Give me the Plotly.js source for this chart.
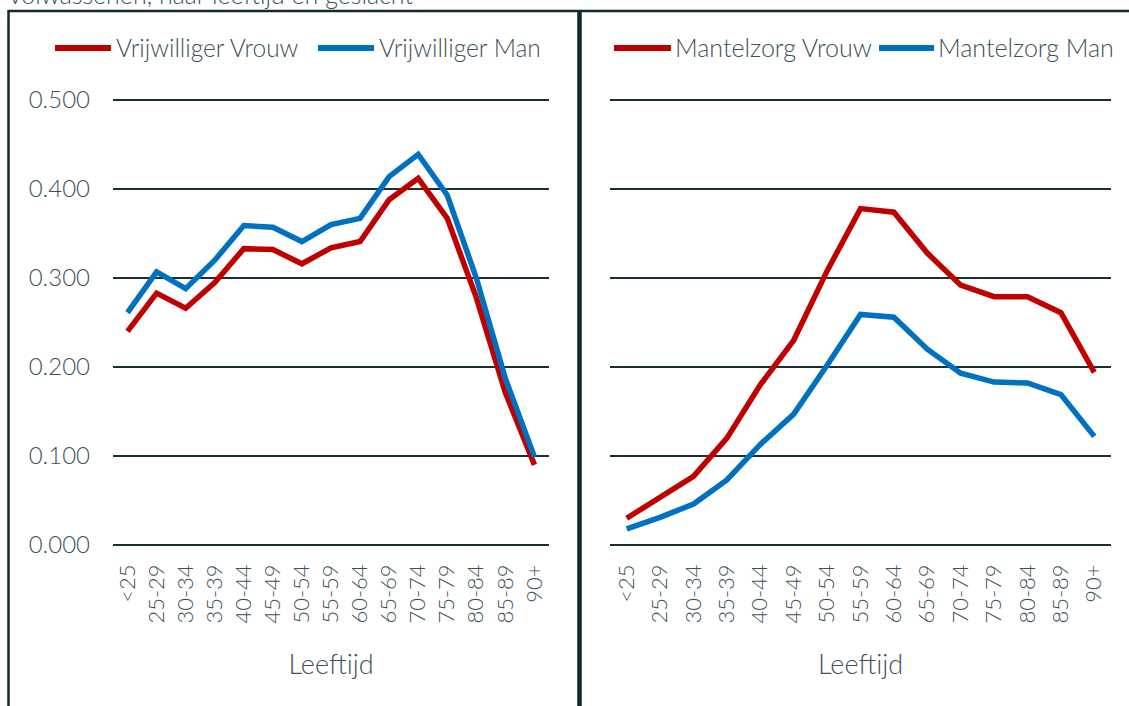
<!DOCTYPE html>
<html>
<head>
<meta charset="utf-8">
<script src="https://cdn.plot.ly/plotly-3.0.1.min.js"></script>
<style>
  html, body { margin: 0; padding: 0; background: #ffffff; }
  #chart { width: 1129px; height: 706px; }
</style>
</head>
<body>
<div id="chart"></div>
<script>
// ---- data ----
const ageGroups = ['<25','25-29','30-34','35-39','40-44','45-49','50-54','55-59','60-64','65-69','70-74','75-79','80-84','85-89','90+'];
const vrijwilligerVrouw = [0.240,0.283,0.266,0.295,0.333,0.332,0.316,0.334,0.341,0.388,0.412,0.367,0.278,0.171,0.090];
const vrijwilligerMan   = [0.261,0.307,0.288,0.320,0.359,0.357,0.341,0.360,0.367,0.414,0.439,0.393,0.300,0.187,0.099];
const mantelzorgVrouw   = [0.030,0.053,0.077,0.120,0.180,0.230,0.308,0.378,0.374,0.328,0.292,0.279,0.279,0.261,0.194];
const mantelzorgMan     = [0.018,0.031,0.046,0.073,0.113,0.147,0.202,0.259,0.256,0.220,0.193,0.183,0.182,0.169,0.122];
const seriesNames = ['Vrijwilliger Vrouw','Vrijwilliger Man','Mantelzorg Vrouw','Mantelzorg Man'];
const yTickVals = [0, 0.1, 0.2, 0.3, 0.4, 0.5];
const yTickText = ['0.000','0.100','0.200','0.300','0.400','0.500'];
const titleText = 'volwassenen, naar leeftijd en geslacht';
const axisTitle = 'Leeftijd';

// ---- style ----
const RED = '#C00000', BLUE = '#0070C0';
const TEXT = '#3c5257', GRID = '#1b2e31', FRAME = '#0e2a2d';
const FONT = 'Lato, "Open Sans", sans-serif';

const W = 1129, H = 706;
const M = {l: 113, r: 18, t: 99, b: 160};
const PW = W - M.l - M.r, PH = H - M.t - M.b;
const px2x = px => (px - M.l) / PW;
const px2y = py => (H - M.b - py) / PH;

function line(y, name, color, xa, ya) {
  return {x: ageGroups, y: y, name: name, type: 'scatter', mode: 'lines',
          xaxis: xa, yaxis: ya, showlegend: false, cliponaxis: false,
          line: {color: color, width: 5.5, shape: 'linear'},
          hoverinfo: 'x+y+name'};
}
const traces = [
  line(vrijwilligerVrouw, seriesNames[0], RED, 'x', 'y'),
  line(vrijwilligerMan, seriesNames[1], BLUE, 'x', 'y'),
  line(mantelzorgVrouw, seriesNames[2], RED, 'x2', 'y2'),
  line(mantelzorgMan, seriesNames[3], BLUE, 'x2', 'y2')
];

const xBase = {
  type: 'category', range: [-0.5, 14.5], showgrid: false, zeroline: false, showline: false,
  ticks: '', tickangle: -90, tickfont: {family: FONT, size: 22, color: TEXT, weight: 300},
  ticklabelstandoff: 13,
  title: {text: axisTitle, font: {family: FONT, size: 27, color: TEXT, weight: 300}, standoff: 32},
  fixedrange: true
};
const yBase = {
  range: [-0.0012, 0.5012], tickvals: yTickVals, ticktext: yTickText, showgrid: true,
  gridcolor: GRID, gridwidth: 1.5, zeroline: false, showline: false, ticks: '',
  tickfont: {family: FONT, size: 24, color: TEXT, weight: 300}, ticklabelstandoff: 22,
  fixedrange: true
};

const legendItems = [
  {name: seriesNames[0], color: RED,  x0: 55,  x1: 111, tx: 114},
  {name: seriesNames[1], color: BLUE, x0: 318, x1: 374, tx: 377},
  {name: seriesNames[2], color: RED,  x0: 614, x1: 671, tx: 673},
  {name: seriesNames[3], color: BLUE, x0: 879, x1: 934, tx: 936}
];
const legendY = 48;

const shapes = [
  // frame
  {type: 'line', xref: 'paper', yref: 'paper', x0: px2x(8.5), x1: px2x(1140), y0: px2y(11), y1: px2y(11), line: {color: FRAME, width: 2.5}},
  {type: 'line', xref: 'paper', yref: 'paper', x0: px2x(8.5), x1: px2x(8.5), y0: px2y(10), y1: px2y(720), line: {color: FRAME, width: 2.5}},
  {type: 'line', xref: 'paper', yref: 'paper', x0: px2x(579.5), x1: px2x(579.5), y0: px2y(10), y1: px2y(720), line: {color: FRAME, width: 4.5}}
];
legendItems.forEach(it => shapes.push({type: 'line', xref: 'paper', yref: 'paper',
  x0: px2x(it.x0), x1: px2x(it.x1), y0: px2y(legendY), y1: px2y(legendY),
  line: {color: it.color, width: 6}}));

const annotations = [
  {text: titleText, xref: 'paper', yref: 'paper', x: px2x(7), y: px2y(11), xanchor: 'left', yanchor: 'bottom',
   showarrow: false, font: {family: FONT, size: 25, color: TEXT, weight: 300}}
];
legendItems.forEach(it => annotations.push({text: it.name, xref: 'paper', yref: 'paper',
  x: px2x(it.tx), y: px2y(legendY - 1), xanchor: 'left', yanchor: 'middle', showarrow: false,
  font: {family: FONT, size: it.name.indexOf('Mantel') === 0 ? 25 : 24.5, color: TEXT, weight: 300}}));

const layout = {
  width: W, height: H, margin: M, paper_bgcolor: '#ffffff', plot_bgcolor: '#ffffff',
  showlegend: false,
  xaxis: Object.assign({}, xBase, {domain: [0, px2x(549)], anchor: 'y'}),
  xaxis2: Object.assign({}, xBase, {domain: [px2x(610), 1], anchor: 'y2'}),
  yaxis: Object.assign({}, yBase, {domain: [0, 1], anchor: 'x'}),
  yaxis2: Object.assign({}, yBase, {domain: [0, 1], anchor: 'x2', showticklabels: false}),
  shapes: shapes, annotations: annotations
};

Plotly.newPlot('chart', traces, layout, {displayModeBar: false, staticPlot: true});
</script>
</body>
</html>
